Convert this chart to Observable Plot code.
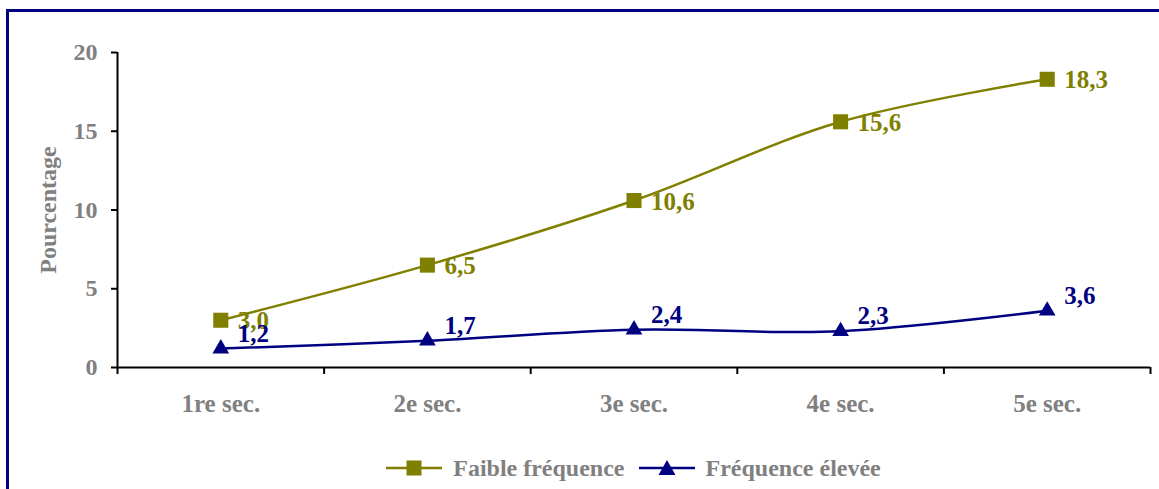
<!DOCTYPE html>
<html>
<head>
<meta charset="utf-8">
<script src="https://cdn.jsdelivr.net/npm/d3@7"></script>
<script src="https://cdn.jsdelivr.net/npm/@observablehq/plot@0.6"></script>
<style>
  html, body { margin: 0; padding: 0; background: #fff; }
  body { width: 1159px; height: 489px; overflow: hidden; position: relative;
         font-family: 'Liberation Serif', 'Times New Roman', serif; font-weight: bold; }
  #frame { position: absolute; left: 6px; top: 9px; width: 1200px; height: 600px;
           border: 3px solid #000080; box-sizing: border-box; }
  #chart { position: absolute; left: 0; top: 0; }
  #legend { position: absolute; left: 117px; width: 1033px; top: 454px; height: 28px;
            display: flex; justify-content: center; align-items: center;
            font-size: 24px; color: #808080; }
  .item { display: flex; align-items: center; }
  .item + .item { margin-left: 14px; }
  .item svg { margin-right: 11px; }
</style>
</head>
<body>
<div id="frame"></div>
<div id="chart"></div>
<div id="legend"></div>
<script>
const categories = ["1re sec.", "2e sec.", "3e sec.", "4e sec.", "5e sec."];
const faible = [3.0, 6.5, 10.6, 15.6, 18.3];
const elevee = [1.2, 1.7, 2.4, 2.3, 3.6];
const yTicks = [0, 5, 10, 15, 20];
const seriesNames = ["Faible fréquence", "Fréquence élevée"];
const colors = ["#808000", "#000080"];

const n = categories.length;
const rowsA = categories.map((c, i) => ({pos: i + 1, cat: c, value: faible[i]}));
const rowsB = categories.map((c, i) => ({pos: i + 1, cat: c, value: elevee[i]}));
const fmt = v => v.toFixed(1).replace(".", ",");

const plot = Plot.plot({
  width: 1159,
  height: 440,
  marginLeft: 117,
  marginRight: 9,
  marginTop: 52,
  marginBottom: 73,
  style: {
    fontFamily: "'Liberation Serif', 'Times New Roman', serif",
    fontWeight: "bold",
    fontSize: "24px",
    background: "transparent",
    color: "black",
    overflow: "visible"
  },
  x: {domain: [0.5, n + 0.5], axis: null},
  y: {domain: [0, 20], axis: null},
  marks: [
    Plot.axisY({ticks: yTicks, tickSize: 6, tickFormat: () => "", strokeWidth: 2, color: "black", label: null}),
    Plot.axisY({ticks: yTicks, tickSize: 0, tickPadding: 20, color: "#808080",
      label: "Pourcentage", labelAnchor: "center", labelArrow: false, labelOffset: 79, fontSize: 24}),
    Plot.axisX({ticks: d3.range(0.5, n + 1, 1), tickSize: 7, tickFormat: () => "", strokeWidth: 2, color: "black", label: null}),
    Plot.axisX({ticks: d3.range(1, n + 1), tickSize: 0, tickPadding: 27, tickFormat: i => categories[i - 1],
      color: "#808080", label: null, fontSize: 25}),
    Plot.ruleX([0.5], {stroke: "black", strokeWidth: 2}),
    Plot.ruleY([0], {stroke: "black", strokeWidth: 2}),
    Plot.line(rowsA, {x: "pos", y: "value", stroke: colors[0], strokeWidth: 2.5, curve: "catmull-rom"}),
    Plot.line(rowsB, {x: "pos", y: "value", stroke: colors[1], strokeWidth: 2.5, curve: "catmull-rom"}),
    Plot.dot(rowsA, {x: "pos", y: "value", symbol: "square", r: 8.5, fill: colors[0], stroke: "none"}),
    Plot.dot(rowsB, {x: "pos", y: "value", symbol: "triangle", r: 6.2, fill: colors[1], stroke: "none"}),
    Plot.text(rowsA, {x: "pos", y: "value", text: d => fmt(d.value), textAnchor: "start", dx: 17, dy: 1,
      fill: colors[0], fontSize: 25, fontWeight: "bold"}),
    Plot.text(rowsB, {x: "pos", y: "value", text: d => fmt(d.value), textAnchor: "start", dx: 17, dy: -15,
      fill: colors[1], fontSize: 25, fontWeight: "bold"})
  ]
});
document.getElementById("chart").appendChild(plot);

// Legend
const legend = document.getElementById("legend");
seriesNames.forEach((name, i) => {
  const item = document.createElement("div");
  item.className = "item";
  const sym = i === 0
    ? `<rect x="20.5" y="2.5" width="15" height="15" fill="${colors[0]}"/>`
    : `<polygon points="28,2 36.5,17 19.5,17" fill="${colors[1]}"/>`;
  item.innerHTML = `<svg width="56" height="20"><line x1="0" x2="56" y1="10" y2="10" stroke="${colors[i]}" stroke-width="2.5"/>${sym}</svg><span>${name}</span>`;
  legend.appendChild(item);
});
</script>
</body>
</html>
